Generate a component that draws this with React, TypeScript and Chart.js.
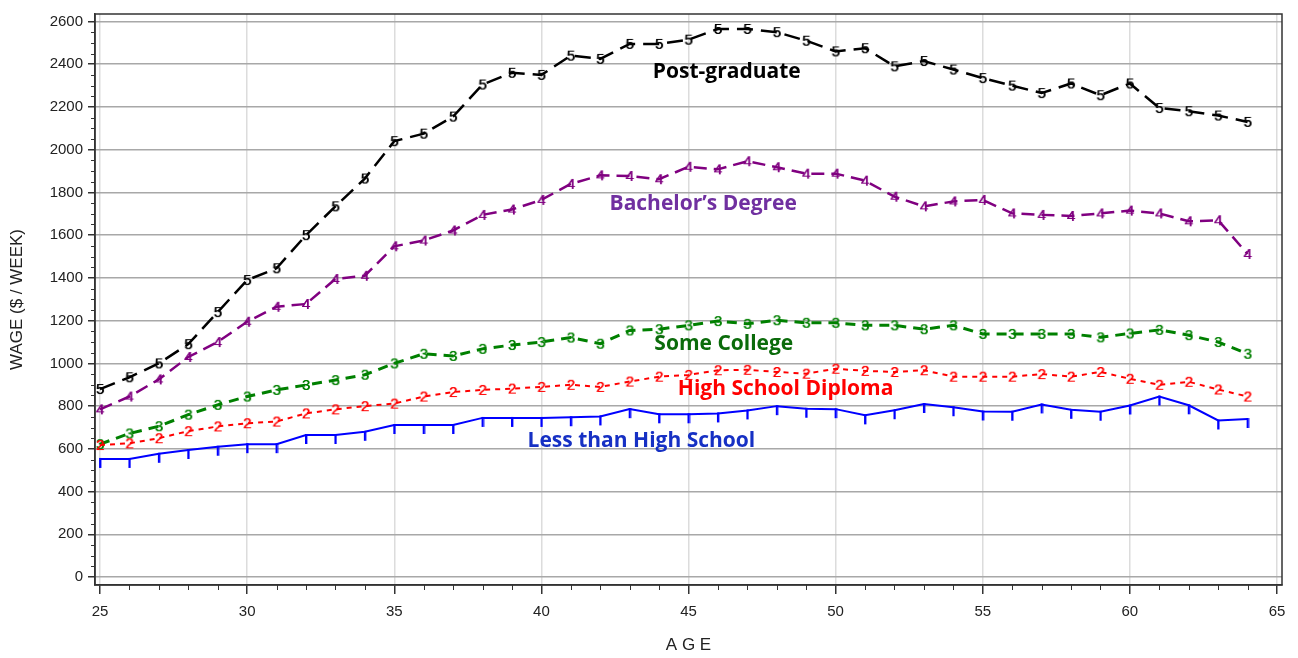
import React, { useEffect, useRef } from "react";
import { Chart, registerables } from "chart.js";

Chart.register(...registerables);

// ---------- data ----------
const ages = [25, 26, 27, 28, 29, 30, 31, 32, 33, 34, 35, 36, 37, 38, 39, 40, 41, 42, 43, 44, 45, 46, 47, 48, 49, 50, 51, 52, 53, 54, 55, 56, 57, 58, 59, 60, 61, 62, 63, 64];

const lessThanHighSchool = [553, 553, 577, 595, 610, 622, 622, 665, 665, 680, 712, 712, 712, 745, 745, 745, 748, 752, 786, 762, 762, 766, 780, 800, 788, 786, 757, 781, 810, 795, 775, 774, 808, 783, 774, 803, 845, 804, 733, 740];

const highSchoolDiploma = [618, 626, 650, 683, 705, 720, 728, 766, 785, 800, 812, 845, 866, 876, 882, 890, 900, 890, 915, 938, 946, 968, 970, 960, 952, 975, 965, 960, 968, 938, 938, 938, 950, 938, 960, 928, 900, 914, 878, 845];

const someCollege = [622, 672, 706, 760, 806, 845, 876, 899, 922, 947, 1000, 1045, 1035, 1068, 1086, 1100, 1121, 1092, 1154, 1160, 1178, 1198, 1185, 1202, 1190, 1190, 1178, 1178, 1160, 1178, 1138, 1138, 1138, 1138, 1122, 1140, 1157, 1132, 1100, 1045];

const bachelorsDegree = [785, 845, 925, 1030, 1100, 1195, 1265, 1278, 1395, 1410, 1548, 1575, 1622, 1695, 1720, 1765, 1840, 1880, 1877, 1862, 1920, 1908, 1946, 1918, 1888, 1888, 1855, 1780, 1735, 1758, 1765, 1702, 1695, 1690, 1702, 1715, 1702, 1665, 1670, 1512];

const postGraduate = [880, 935, 1000, 1090, 1240, 1390, 1445, 1600, 1735, 1865, 2040, 2075, 2155, 2305, 2360, 2350, 2440, 2425, 2495, 2495, 2515, 2565, 2565, 2550, 2510, 2460, 2475, 2390, 2415, 2375, 2335, 2300, 2265, 2310, 2255, 2310, 2195, 2180, 2160, 2130];

const seriesNames = ["Less than High School", "High School Diploma", "Some College", "Bachelor’s Degree", "Post-graduate"];
const seriesMarkers = ["|", "2", "3", "4", "5"];

const yMajorTicks = [0, 200, 400, 600, 800, 1000, 1200, 1400, 1600, 1800, 2000, 2200, 2400, 2600];
const xMajorTicks = [25, 30, 35, 40, 45, 50, 55, 60, 65];
const yMinorStep = 50;
const xMinorStep = 1;

// ---------- styles ----------
const lineColors = ["#0000ff", "#ff0000", "#008000", "#800080", "#000000"];
const labelColors = ["#1630c4", "#ff0000", "#0b6b0b", "#7030a0", "#000000"];
const dashes = [[], [5, 5], [10, 7], [13, 7], [16, 8]];
const widths = [2, 2, 3, 2.5, 2.5];
// label anchors in data space (age, wage)
const labelAge = [43.4, 48.3, 46.2, 45.5, 46.3];
const labelWage = [635, 880, 1089, 1747, 2363];

export default function App() {
  const ref = useRef<HTMLCanvasElement>(null);

  useEffect(() => {
    const canvas = ref.current;
    if (!canvas) return;

    const makeDigit = (d: string, color: string) => {
      const c = document.createElement("canvas");
      c.width = 14;
      c.height = 18;
      const g = c.getContext("2d")!;
      g.fillStyle = color;
      g.font = '15px "Liberation Sans"';
      g.textAlign = "center";
      g.textBaseline = "middle";
      g.fillText(d, 7, 9.5);
      g.fillText(d, 7.5, 9.5);
      return c;
    };
    const makeTick = (color: string) => {
      const c = document.createElement("canvas");
      c.width = 4;
      c.height = 22;
      const g = c.getContext("2d")!;
      g.fillStyle = color;
      g.fillRect(1, 10, 2.4, 10);
      return c;
    };

    const allSeries = [lessThanHighSchool, highSchoolDiploma, someCollege, bachelorsDegree, postGraduate];

    const datasets = allSeries.map((vals, i) => ({
      label: seriesNames[i],
      data: ages.map((a, k) => ({ x: a, y: vals[k] })),
      borderColor: lineColors[i],
      backgroundColor: lineColors[i],
      borderWidth: widths[i],
      borderDash: dashes[i],
      tension: 0,
      fill: false,
      pointStyle: i === 0 ? makeTick(lineColors[i]) : makeDigit(seriesMarkers[i], lineColors[i]),
      pointRadius: 5,
    }));

    const yAll: number[] = [];
    for (let v = yMajorTicks[0]; v <= yMajorTicks[yMajorTicks.length - 1]; v += yMinorStep) yAll.push(v);
    const xAll: number[] = [];
    for (let v = xMajorTicks[0]; v <= xMajorTicks[xMajorTicks.length - 1]; v += xMinorStep) xAll.push(v);

    const decor = {
      id: "decor",
      afterDatasetsDraw(chart: any) {
        const { ctx, chartArea, scales } = chart;
        const xs = scales.x, ys = scales.y;
        ctx.save();
        // minor ticks
        ctx.strokeStyle = "#333";
        ctx.lineWidth = 1;
        ctx.beginPath();
        yAll.forEach((v) => {
          if (v % 200 === 0) return;
          const py = Math.round(ys.getPixelForValue(v)) + 0.5;
          ctx.moveTo(chartArea.left - 4, py);
          ctx.lineTo(chartArea.left, py);
        });
        xAll.forEach((v) => {
          if (v % 5 === 0) return;
          const px = Math.round(xs.getPixelForValue(v)) + 0.5;
          ctx.moveTo(px, chartArea.bottom);
          ctx.lineTo(px, chartArea.bottom + 5);
        });
        ctx.stroke();
        // frame
        ctx.strokeStyle = "#333";
        ctx.lineWidth = 1.5;
        ctx.strokeRect(chartArea.left, chartArea.top, chartArea.right - chartArea.left, chartArea.bottom - chartArea.top);
        // series labels
        ctx.font = 'bold 21px "Open Sans"';
        ctx.textAlign = "center";
        ctx.textBaseline = "middle";
        seriesNames.forEach((name, i) => {
          ctx.fillStyle = labelColors[i];
          ctx.fillText(name, xs.getPixelForValue(labelAge[i]), ys.getPixelForValue(labelWage[i]));
        });
        ctx.restore();
      },
    };

    const tickFont = { family: '"Liberation Sans", Arial, sans-serif', size: 15 };

    const chart = new Chart(canvas, {
      type: "line",
      data: { datasets },
      options: {
        responsive: false,
        devicePixelRatio: 1,
        animation: false,
        layout: { padding: { left: 0, right: 16, top: 9, bottom: 0 } },
        plugins: { legend: { display: false }, tooltip: { enabled: false }, title: { display: false } },
        scales: {
          x: {
            type: "linear",
            min: 24.83,
            max: 65.17,
            afterBuildTicks: (s: any) => {
              s.ticks = xAll.map((v) => ({ value: v }));
            },
            afterFit: (s: any) => {
              s.height = 73;
            },
            ticks: {
              autoSkip: false,
              maxRotation: 0,
              padding: 9,
              color: "#222",
              font: tickFont,
              callback: (v: any) => (xMajorTicks.includes(Number(v)) ? String(v) : ""),
            },
            grid: {
              color: (c: any) => (c.tick && c.tick.value % 5 === 0 ? "#dcdcdc" : "rgba(0,0,0,0)"),
              lineWidth: 1.5,
              tickLength: 9,
              tickColor: (c: any) => (c.tick && c.tick.value % 5 === 0 ? "#333" : "rgba(0,0,0,0)"),
            },
            border: { display: true, color: "#333", width: 1.5 },
            title: {
              display: true,
              text: "A G E",
              color: "#222",
              font: { family: '"Liberation Sans", Arial, sans-serif', size: 17 },
              padding: { top: 0, bottom: 2 },
            },
          },
          y: {
            type: "linear",
            min: -37,
            max: 2635,
            afterBuildTicks: (s: any) => {
              s.ticks = yAll.map((v) => ({ value: v }));
            },
            afterFit: (s: any) => {
              s.width = 95;
            },
            ticks: {
              autoSkip: false,
              padding: 5,
              color: "#222",
              font: tickFont,
              callback: (v: any) => (yMajorTicks.includes(Number(v)) ? String(v) : ""),
            },
            grid: {
              color: (c: any) => (c.tick && c.tick.value % 200 === 0 ? "#a8a8a8" : "rgba(0,0,0,0)"),
              lineWidth: 1.5,
              tickLength: 7,
              tickColor: (c: any) => (c.tick && c.tick.value % 200 === 0 ? "#333" : "rgba(0,0,0,0)"),
            },
            border: { display: true, color: "#333", width: 1.5 },
            title: {
              display: true,
              text: "WAGE ($ / WEEK)",
              color: "#222",
              font: { family: '"Liberation Sans", Arial, sans-serif', size: 17 },
              padding: { top: 7, bottom: 7 },
            },
          },
        },
      },
      plugins: [decor],
    } as any);

    return () => chart.destroy();
  }, []);

  return (
    <div style={{ position: "fixed", left: 0, top: 0, width: 1298, height: 658, background: "#fff" }}>
      <canvas ref={ref} width={1298} height={658} style={{ display: "block", width: 1298, height: 658 }} />
    </div>
  );
}
